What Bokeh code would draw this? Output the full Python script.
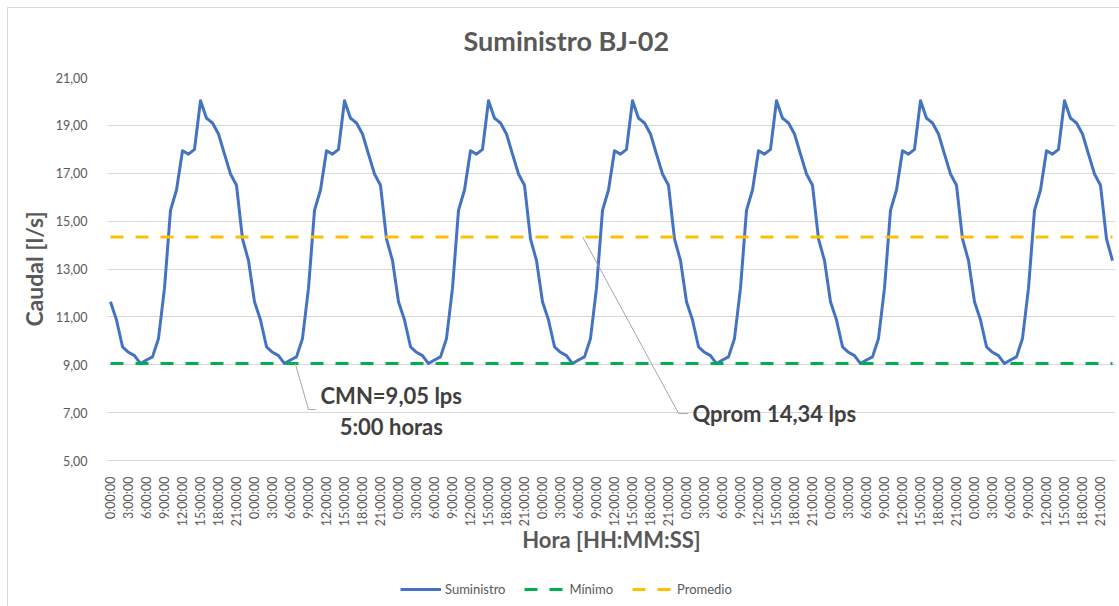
import math
from bokeh.plotting import figure
from bokeh.layouts import column
from bokeh.models import Range1d, FixedTicker, Label, Legend, LegendItem
from bokeh.embed import file_html
from bokeh.resources import INLINE

# ---------------- data ----------------
day_hours = [f"{h}:00:00" for h in range(24)]
# hourly flow (l/s) of one day (all 7 days are identical)
day_profile = [11.63, 10.87, 9.75, 9.52, 9.38, 9.05, 9.20, 9.33,
               10.10, 12.20, 15.45, 16.30, 17.94, 17.80, 18.00, 20.03,
               19.30, 19.10, 18.64, 17.80, 16.97, 16.50, 14.26, 13.35]
n_days = 7
suministro = day_profile * n_days
hour_labels = day_hours * n_days
idx = list(range(len(suministro)))
minimo = 9.05
promedio = 14.34
y_ticks = [5, 7, 9, 11, 13, 15, 17, 19, 21]
x_tick_step = 3

# annotation anchors (data units: category index, l/s)
cmn_leader_x = [30.8, 33.0, 34.2]
cmn_leader_y = [minimo, 7.13, 7.13]
cmn_text_pos = (46.8, 7.72)
cmn_text2_pos = (46.8, 6.42)
qp_leader_x = [78.7, 94.7, 96.3]
qp_leader_y = [promedio, 6.96, 6.96]
qp_text_pos = (97.0, 6.98)

FONT = "Lato"
GRAY = "#595959"
DARK = "#404040"
BORDER = "#D9D9D9"

p = figure(width=1119, height=572, output_backend="svg", toolbar_location=None,
           x_range=Range1d(-0.5, len(idx) - 0.5), y_range=Range1d(5, 21),
           min_border_left=107, min_border_right=4, min_border_top=75,
           min_border_bottom=112)
p.styles = {
    "background-color": "white",
    "background-image": f"linear-gradient({BORDER},{BORDER}), linear-gradient({BORDER},{BORDER})",
    "background-size": "1px 100%, 100% 1px",
    "background-position": "7px 7px, 7px 7px",
    "background-repeat": "no-repeat",
}
p.outline_line_color = None
p.background_fill_color = "white"
p.border_fill_alpha = 0

p.title.text = "Suministro BJ-02"
p.title.align = "left"
p.title.offset = 356
p.title.standoff = 42
p.title.text_font = FONT
p.title.text_font_size = "27px"
p.title.text_font_style = "bold"
p.title.text_color = GRAY

# grid
p.xgrid.grid_line_color = None
p.ygrid.grid_line_color = BORDER
p.ygrid.grid_line_width = 1

# y axis
p.yaxis.ticker = FixedTicker(ticks=y_ticks)
p.yaxis.major_label_overrides = {t: f"{t:.2f}".replace(".", ",") for t in y_ticks}
p.yaxis.axis_line_color = None
p.yaxis.major_tick_line_color = None
p.yaxis.minor_tick_line_color = None
p.yaxis.major_label_standoff = 14
p.yaxis.major_label_text_font = FONT
p.yaxis.major_label_text_font_size = "12.5px"
p.yaxis.major_label_text_color = GRAY
p.yaxis.axis_label = "Caudal [l/s]"
p.yaxis.axis_label_text_font = FONT
p.yaxis.axis_label_text_font_size = "23px"
p.yaxis.axis_label_text_font_style = "bold"
p.yaxis.axis_label_text_color = GRAY
p.yaxis.axis_label_standoff = 5

# x axis
xt = idx[::x_tick_step]
p.xaxis.ticker = FixedTicker(ticks=xt)
p.xaxis.major_label_overrides = {i: hour_labels[i] for i in xt}
p.xaxis.major_label_orientation = math.pi / 2
p.xaxis.axis_line_color = BORDER
p.xaxis.major_tick_line_color = None
p.xaxis.minor_tick_line_color = None
p.xaxis.major_label_standoff = 10
p.xaxis.major_label_text_font = FONT
p.xaxis.major_label_text_font_size = "12.5px"
p.xaxis.major_label_text_color = GRAY
p.xaxis.axis_label = "Hora [HH:MM:SS]"
p.xaxis.axis_label_text_font = FONT
p.xaxis.axis_label_text_font_size = "22px"
p.xaxis.axis_label_text_font_style = "bold"
p.xaxis.axis_label_text_color = GRAY
p.xaxis.axis_label_standoff = -3

# series
blue = dict(line_color="#4472C4", line_width=3, line_join="round")
green = dict(line_color="#00B050", line_width=3, line_dash="13 12")
orange = dict(line_color="#FFC000", line_width=3, line_dash="13 12")
p.line(idx, suministro, **blue)
p.line([idx[0], idx[-1]], [minimo, minimo], **green)
p.line([idx[0], idx[-1]], [promedio, promedio], **orange)

# annotations
p.line(cmn_leader_x, cmn_leader_y, line_color="#A6A6A6", line_width=1)
p.line(qp_leader_x, qp_leader_y, line_color="#A6A6A6", line_width=1)
for txt, pos, align in [("CMN=9,05 lps", cmn_text_pos, "center"),
                        ("5:00 horas", cmn_text2_pos, "center"),
                        ("Qprom 14,34 lps", qp_text_pos, "left")]:
    p.add_layout(Label(x=pos[0], y=pos[1], text=txt, text_align=align,
                       text_baseline="middle", text_font=FONT,
                       text_font_size="22px", text_font_style="bold",
                       text_color=DARK))

# legend strip below the chart: same series drawn out of its view, only the legend shows
lg = figure(width=1119, height=34, output_backend="svg", toolbar_location=None,
            x_range=Range1d(-0.5, len(idx) - 0.5), y_range=Range1d(0, 1),
            min_border_left=0, min_border_right=0, min_border_top=0,
            min_border_bottom=0)
lg.styles = {
    "background-color": "white",
    "background-image": f"linear-gradient({BORDER},{BORDER})",
    "background-size": "1px 100%",
    "background-position": "7px 0px",
    "background-repeat": "no-repeat",
}
lg.axis.visible = False
lg.grid.grid_line_color = None
lg.outline_line_color = None
lg.background_fill_alpha = 0
lg.border_fill_alpha = 0
l1 = lg.line(idx, suministro, **blue)
l2 = lg.line([idx[0], idx[-1]], [minimo, minimo], **green)
l3 = lg.line([idx[0], idx[-1]], [promedio, promedio], **orange)
legend = Legend(items=[LegendItem(label="Suministro", renderers=[l1]),
                       LegendItem(label="Mínimo", renderers=[l2]),
                       LegendItem(label="Promedio", renderers=[l3])],
                orientation="horizontal", location=(293, 7),
                border_line_color=None, background_fill_alpha=0,
                label_text_font=FONT, label_text_font_size="13px",
                label_text_color=GRAY, glyph_width=41, glyph_height=20,
                label_standoff=4, spacing=19, padding=0, margin=0)
lg.add_layout(legend)

layout = column(p, lg, spacing=0)
open("out.html", "w").write(file_html(layout, INLINE))
